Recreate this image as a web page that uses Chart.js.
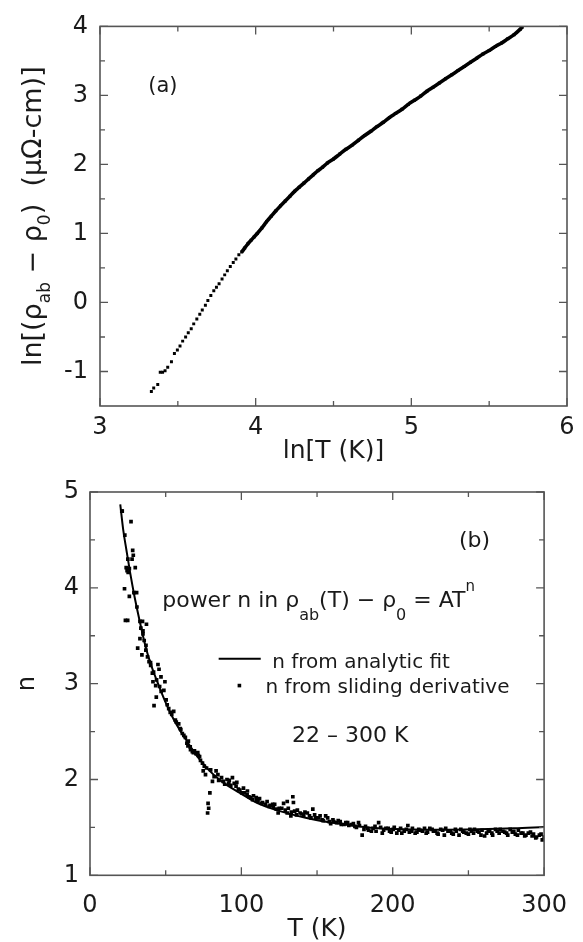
<!DOCTYPE html>
<html>
<head>
<meta charset="utf-8">
<script src="https://cdn.jsdelivr.net/npm/chart.js@4.4.0/dist/chart.umd.min.js"></script>
<style>
  body { margin: 0; background: #fff; }
  #wrap { position: relative; width: 583px; height: 942px; background: #fff; }
  canvas { position: absolute; left: 0; }
  #chartA { top: 0; }
  #chartB { top: 460px; }
</style>
</head>
<body>
<div id="wrap">
  <canvas id="chartA" width="583" height="475"></canvas>
  <canvas id="chartB" width="583" height="482"></canvas>
</div>
<script>
// ---- panel (a): ln(rho_ab - rho_0) vs ln T
const lnT_a = [3.330, 3.345, 3.371, 3.387, 3.402, 3.418, 3.435, 3.459, 3.478, 3.497,
  3.514, 3.531, 3.550, 3.567, 3.586, 3.602, 3.622, 3.641, 3.657, 3.677,
  3.693, 3.712, 3.731, 3.748, 3.765, 3.784, 3.801, 3.818, 3.837, 3.856,
  3.873, 3.892, 3.91, 3.93, 3.95, 3.97, 3.99, 4.01, 4.04, 4.07,
  4.10, 4.13, 4.16, 4.19, 4.22, 4.25, 4.28, 4.31, 4.34, 4.37,
  4.40, 4.43, 4.46, 4.50, 4.54, 4.58, 4.62, 4.66, 4.70, 4.74,
  4.78, 4.82, 4.86, 4.90, 4.94, 4.98, 5.02, 5.06, 5.10, 5.14,
  5.18, 5.22, 5.26, 5.30, 5.34, 5.38, 5.42, 5.46, 5.50, 5.54,
  5.58, 5.62, 5.66, 5.70, 5.713];
const lnRho_a = [-1.29, -1.24, -1.19, -1.01, -1.01, -0.99, -0.94, -0.86, -0.74, -0.69,
  -0.63, -0.56, -0.50, -0.44, -0.38, -0.31, -0.24, -0.17, -0.11, -0.04,
  0.03, 0.10, 0.17, 0.22, 0.27, 0.34, 0.40, 0.46, 0.52, 0.58,
  0.63, 0.69, 0.73, 0.79, 0.85, 0.90, 0.95, 1.00, 1.08, 1.17,
  1.25, 1.33, 1.40, 1.47, 1.54, 1.61, 1.67, 1.73, 1.79, 1.85,
  1.91, 1.96, 2.02, 2.08, 2.15, 2.22, 2.28, 2.35, 2.42, 2.48,
  2.55, 2.61, 2.68, 2.74, 2.80, 2.87, 2.93, 2.99, 3.06, 3.12,
  3.18, 3.24, 3.30, 3.36, 3.42, 3.48, 3.54, 3.60, 3.65, 3.71,
  3.76, 3.82, 3.88, 3.96, 3.99];
const xTicksA = [3, 4, 5, 6];
const yTicksA = [-1, 0, 1, 2, 3, 4];

// ---- panel (b): power n vs T
const T_fit = [20, 22, 24, 26.6, 29.4, 32.6, 36.2, 39.8, 44.7, 49.5, 55.5, 62.8, 70,
  78.4, 86.9, 99, 111, 125.5, 142.4, 159.3, 183.4, 207.6, 231.7, 255.9, 280, 300];
const n_fit = [4.87, 4.60, 4.40, 4.15, 3.91, 3.67, 3.42, 3.22, 3.01, 2.82, 2.62, 2.43, 2.26,
  2.10, 1.98, 1.86, 1.75, 1.67, 1.60, 1.55, 1.50, 1.48, 1.475, 1.48, 1.49, 1.505];

const T_sd = [21.3, 22.8, 23.4, 23.9, 24.5, 24.9, 25.2, 26.0, 27.1, 27.8, 28.2, 28.6, 29.9, 30.8,
  31.5, 33.0, 33.6, 34.3, 34.7, 35.0, 35.8, 36.9, 37.3, 38.0, 39.0, 40.1, 41.2, 41.6, 42.3,
  43.4, 43.8, 44.9, 45.6, 46.9, 48.8, 49.5, 50.3, 52.0, 55.3, 56.4, 58.6, 59.6, 64.0, 64.7,
  66.2, 66.4, 67.6, 68.3, 71.2, 71.6, 72.4, 74.3, 74.8, 75.5, 76.3, 77.7, 78.0, 78.4, 79.2,
  79.7, 80.9, 83.3, 84.5, 86.9, 88.1, 90.5, 91.7, 94.1, 95.3, 96.5, 99.0, 100.2, 101.4,
  103.8, 106.2, 107.4, 109.8, 111.0, 113.4, 115.9, 118.3, 120.7, 123.1, 124.3, 126.7,
  127.9, 130.3, 130.3, 132.7, 134.0, 134.4, 135.2, 136.4, 138.8, 141.2, 143.6, 146.0,
  147.2, 148.4, 150.9, 153.3, 155.7, 158.1, 160.5, 162.9, 165.3, 167.8, 170.2, 172.6,
  175.0, 177.4, 179.8, 181.0, 183.4, 185.9, 188.3, 190.7, 193.1, 195.5, 197.9, 200.3,
  202.7, 205.2, 207.6, 210.0, 212.4, 214.8, 217.2, 219.6, 222.1, 224.5, 226.9, 229.3,
  231.7, 234.1, 236.5, 239.0, 241.4, 243.8, 246.2, 248.6, 251.0, 253.4, 255.9, 258.3,
  260.7, 263.1, 265.5, 267.9, 270.3, 272.8, 275.2, 277.6, 280.0, 282.4, 284.8, 287.2,
  289.6, 292.1, 294.5, 296.9, 298.8,
  21, 23, 25, 26, 29, 31, 33, 35, 37, 40, 42, 44, 46, 47, 51, 53, 54, 57, 60, 61, 62, 63,
  65, 69, 70, 73, 77, 82, 85, 89, 92, 93, 97, 98, 102, 104, 105, 108, 110, 112, 114, 117,
  119, 121, 122, 125, 129, 131, 133, 137, 140, 142, 145, 149, 152, 154, 157, 159, 161,
  164, 166, 169, 171, 174, 176, 178, 182, 184, 187, 189, 192, 194, 197, 199, 201, 204,
  206, 209, 211, 213, 216, 218, 221, 223, 226, 228, 230, 233, 235, 238, 240, 242, 245,
  247, 250, 252, 254, 257, 259, 262, 264, 266, 269, 271, 274, 276, 279, 281, 283, 286,
  288, 291, 293, 295, 298, 300];
const n_sd = [4.80, 3.99, 3.66, 4.21, 4.18, 3.66, 4.16, 3.91, 4.69, 4.30, 4.39, 4.34, 4.21, 3.95,
  3.37, 3.47, 3.58, 3.30, 3.65, 3.55, 3.45, 3.35, 3.62, 3.28, 3.23, 3.19, 3.11, 3.02, 2.77,
  2.98, 2.86, 3.20, 3.15, 3.07, 2.93, 3.02, 2.83, 2.74, 2.71, 2.62, 2.58, 2.53, 2.38, 2.35,
  2.34, 2.31, 2.29, 2.28, 2.28, 2.25, 2.24, 2.17, 2.09, 2.14, 2.05, 1.65, 1.75, 1.70, 1.86,
  2.10, 1.98, 2.09, 2.05, 2.02, 1.98, 2.00, 1.96, 2.02, 1.96, 1.93, 1.89, 1.86, 1.91,
  1.84, 1.81, 1.79, 1.81, 1.77, 1.75, 1.74, 1.72, 1.74, 1.69, 1.65, 1.70,
  1.75, 1.77, 1.65, 1.62, 1.82, 1.76, 1.67, 1.63, 1.65, 1.62, 1.65, 1.60,
  1.69, 1.63, 1.60, 1.58, 1.62, 1.56, 1.58, 1.55, 1.56, 1.53, 1.55, 1.53,
  1.51, 1.55, 1.42, 1.48, 1.49, 1.46, 1.51, 1.55, 1.44, 1.49, 1.46, 1.48,
  1.44, 1.49, 1.46, 1.52, 1.46, 1.44, 1.48, 1.46, 1.44, 1.49, 1.46, 1.44,
  1.48, 1.42, 1.46, 1.44, 1.48, 1.42, 1.46, 1.44, 1.48, 1.44, 1.46, 1.42,
  1.41, 1.46, 1.44, 1.48, 1.44, 1.46, 1.44, 1.48, 1.46, 1.42, 1.44, 1.41,
  1.44, 1.41, 1.39, 1.42, 1.37,
  4.80, 4.55, 4.30, 4.20, 3.95, 3.80, 3.65, 3.52, 3.40, 3.22, 3.12, 3.04, 2.97, 2.92, 2.78,
  2.70, 2.68, 2.60, 2.52, 2.48, 2.46, 2.44, 2.40, 2.30, 2.27, 2.20, 2.12, 2.03, 1.99, 1.95,
  1.99, 1.94, 1.97, 1.90, 1.86, 1.88, 1.82, 1.83, 1.78, 1.80, 1.76, 1.77, 1.73, 1.71, 1.74,
  1.70, 1.68, 1.70, 1.66, 1.68, 1.64, 1.66, 1.62, 1.60, 1.62, 1.57, 1.60, 1.54, 1.56, 1.57,
  1.53, 1.55, 1.52, 1.54, 1.50, 1.52, 1.51, 1.47, 1.49, 1.46, 1.50, 1.47, 1.49, 1.45, 1.50,
  1.47, 1.44, 1.48, 1.45, 1.49, 1.45, 1.47, 1.49, 1.45, 1.48, 1.46, 1.43, 1.47, 1.49, 1.46,
  1.43, 1.46, 1.48, 1.45, 1.43, 1.46, 1.48, 1.45, 1.47, 1.44, 1.47, 1.42, 1.46, 1.48, 1.45,
  1.42, 1.45, 1.43, 1.47, 1.44, 1.42, 1.45, 1.43, 1.40, 1.43, 1.40];
const xTicksB = [0, 100, 200, 300];
const yTicksB = [1, 2, 3, 4, 5];

const FONT = '"DejaVu Sans", sans-serif';
const INK = '#1a1a1a';
Chart.defaults.font.family = FONT;
Chart.defaults.color = INK;

function pts(xs, ys) {
  return xs.map((v, i) => ({ x: v, y: ys[i] }));
}

// draws a run of text pieces: [text, size, dy]
function drawParts(ctx, parts, x, y, align) {
  let w = 0;
  parts.forEach(p => { ctx.font = p[1] + 'px ' + FONT; w += ctx.measureText(p[0]).width; });
  let cx = align === 'center' ? x - w / 2 : x;
  parts.forEach(p => {
    ctx.font = p[1] + 'px ' + FONT;
    ctx.fillText(p[0], cx, y + (p[2] || 0));
    cx += ctx.measureText(p[0]).width;
  });
}

// frame with inward ticks on all four sides
const frameTicks = {
  id: 'frameTicks',
  afterDatasetsDraw(chart, args, o) {
    const { ctx, chartArea: a, scales: { x, y } } = chart;
    ctx.save();
    ctx.strokeStyle = '#555';
    ctx.lineWidth = 1.3;
    ctx.beginPath();
    const tx = (vals, len) => vals.forEach(v => {
      const px = x.getPixelForValue(v);
      ctx.moveTo(px, a.bottom); ctx.lineTo(px, a.bottom - len);
      ctx.moveTo(px, a.top); ctx.lineTo(px, a.top + len);
    });
    const ty = (vals, len) => vals.forEach(v => {
      const py = y.getPixelForValue(v);
      ctx.moveTo(a.left, py); ctx.lineTo(a.left + len, py);
      ctx.moveTo(a.right, py); ctx.lineTo(a.right - len, py);
    });
    tx(o.xMajor, 8); tx(o.xMinor, 5);
    ty(o.yMajor, 8); ty(o.yMinor, 5);
    ctx.stroke();
    ctx.lineWidth = 1.6;
    ctx.strokeRect(a.left, a.top, a.right - a.left, a.bottom - a.top);
    ctx.restore();
  }
};

// text drawn after everything
const notes = {
  id: 'notes',
  afterDraw(chart, args, o) {
    const ctx = chart.ctx;
    ctx.save();
    ctx.fillStyle = INK;
    ctx.textBaseline = 'alphabetic';
    o.draw(ctx, chart);
    ctx.restore();
  }
};

function setTicks(list) {
  return s => { s.ticks = list.map(v => ({ value: v })); };
}

new Chart(document.getElementById('chartA'), {
  type: 'scatter',
  data: {
    datasets: [{
      data: pts(lnT_a, lnRho_a),
      showLine: true,
      borderColor: '#000',
      borderWidth: 3.6,
      backgroundColor: '#000',
      pointStyle: 'rect',
      pointRadius: 2.1,
      pointBorderWidth: 0,
      cubicInterpolationMode: 'monotone',
      segment: { borderColor: c => c.p0.parsed.x < 3.9 ? 'rgba(0,0,0,0)' : '#000' }
    }]
  },
  options: {
    responsive: false,
    animation: false,
    devicePixelRatio: 1,
    layout: { padding: { top: 19.5, right: 16, left: 0, bottom: 0 } },
    plugins: {
      legend: { display: false },
      tooltip: { enabled: false },
      frameTicks: { xMajor: xTicksA, xMinor: [3.5, 4.5, 5.5], yMajor: yTicksA, yMinor: [-0.5, 0.5, 1.5, 2.5, 3.5] },
      notes: {
        draw(ctx, chart) {
          const sx = chart.scales.x, sy = chart.scales.y, a = chart.chartArea;
          drawParts(ctx, [['(a)', 21]], sx.getPixelForValue(3.31), sy.getPixelForValue(3.05));
          drawParts(ctx, [['ln[T (K)]', 25]], (a.left + a.right) / 2, 458, 'center');
          ctx.save();
          ctx.translate(41, (a.top + a.bottom) / 2);
          ctx.rotate(-Math.PI / 2);
          drawParts(ctx, [['ln[(ρ', 27], ['ab', 17, 9], [' − ρ', 27], ['0', 17, 9], [')  (μΩ-cm)]', 27]], 0, 0, 'center');
          ctx.restore();
        }
      }
    },
    scales: {
      x: {
        type: 'linear', min: 3, max: 6,
        afterBuildTicks: setTicks(xTicksA),
        afterFit: s => { s.height = 69; },
        grid: { display: false, drawTicks: false },
        border: { display: false },
        ticks: { font: { size: 24 }, padding: 7, color: INK }
      },
      y: {
        type: 'linear', min: -1.5, max: 4,
        afterBuildTicks: setTicks(yTicksA),
        afterFit: s => { s.width = 100; },
        grid: { display: false, drawTicks: false },
        border: { display: false },
        ticks: { font: { size: 24 }, padding: 12, color: INK }
      }
    }
  },
  plugins: [frameTicks, notes]
});

new Chart(document.getElementById('chartB'), {
  type: 'scatter',
  data: {
    datasets: [{
      label: 'n from analytic fit',
      data: pts(T_fit, n_fit),
      showLine: true,
      borderColor: '#000',
      borderWidth: 2,
      pointRadius: 0,
      cubicInterpolationMode: 'monotone'
    }, {
      label: 'n from sliding derivative',
      data: pts(T_sd, n_sd),
      backgroundColor: '#000',
      pointStyle: 'rect',
      pointRadius: 2.6,
      pointBorderWidth: 0
    }]
  },
  options: {
    responsive: false,
    animation: false,
    devicePixelRatio: 1,
    layout: { padding: { top: 32, right: 31.7, left: 0, bottom: 0 } },
    plugins: {
      legend: { display: false },
      tooltip: { enabled: false },
      frameTicks: { xMajor: xTicksB, xMinor: [50, 150, 250], yMajor: yTicksB, yMinor: [1.5, 2.5, 3.5, 4.5] },
      notes: {
        draw(ctx, chart) {
          const sx = chart.scales.x, sy = chart.scales.y, a = chart.chartArea;
          const X = v => sx.getPixelForValue(v), Y = v => sy.getPixelForValue(v);
          drawParts(ctx, [['(b)', 22]], X(243.7), Y(4.43));
          drawParts(ctx, [['power n in ρ', 22], ['ab', 16, 13], ['(T) − ρ', 22], ['0', 16, 13],
            [' = AT', 22], ['n', 15, -16]], X(47.7), Y(3.80));
          // legend
          ctx.strokeStyle = '#000';
          ctx.lineWidth = 2;
          ctx.beginPath();
          ctx.moveTo(X(85), Y(3.26)); ctx.lineTo(X(112.8), Y(3.26));
          ctx.stroke();
          drawParts(ctx, [['n from analytic fit', 20]], X(120.4), Y(3.165));
          ctx.fillStyle = '#000';
          ctx.fillRect(X(98.7) - 1.8, Y(2.98) - 1.8, 3.6, 3.6);
          ctx.fillStyle = INK;
          drawParts(ctx, [['n from sliding derivative', 20]], X(116), Y(2.90));
          drawParts(ctx, [['22 – 300 K', 22]], X(133.5), Y(2.388));
          drawParts(ctx, [['T (K)', 25]], (a.left + a.right) / 2, 476, 'center');
          ctx.save();
          ctx.translate(34, (a.top + a.bottom) / 2);
          ctx.rotate(-Math.PI / 2);
          drawParts(ctx, [['n', 24]], 0, 0, 'center');
          ctx.restore();
        }
      }
    },
    scales: {
      x: {
        type: 'linear', min: 0, max: 300,
        afterBuildTicks: setTicks(xTicksB),
        afterFit: s => { s.height = 66.7; },
        grid: { display: false, drawTicks: false },
        border: { display: false },
        ticks: { font: { size: 24 }, padding: 16, color: INK }
      },
      y: {
        type: 'linear', min: 1, max: 5,
        afterBuildTicks: setTicks(yTicksB),
        afterFit: s => { s.width = 90; },
        grid: { display: false, drawTicks: false },
        border: { display: false },
        ticks: { font: { size: 24 }, padding: 11, color: INK }
      }
    }
  },
  plugins: [frameTicks, notes]
});
</script>
</body>
</html>
